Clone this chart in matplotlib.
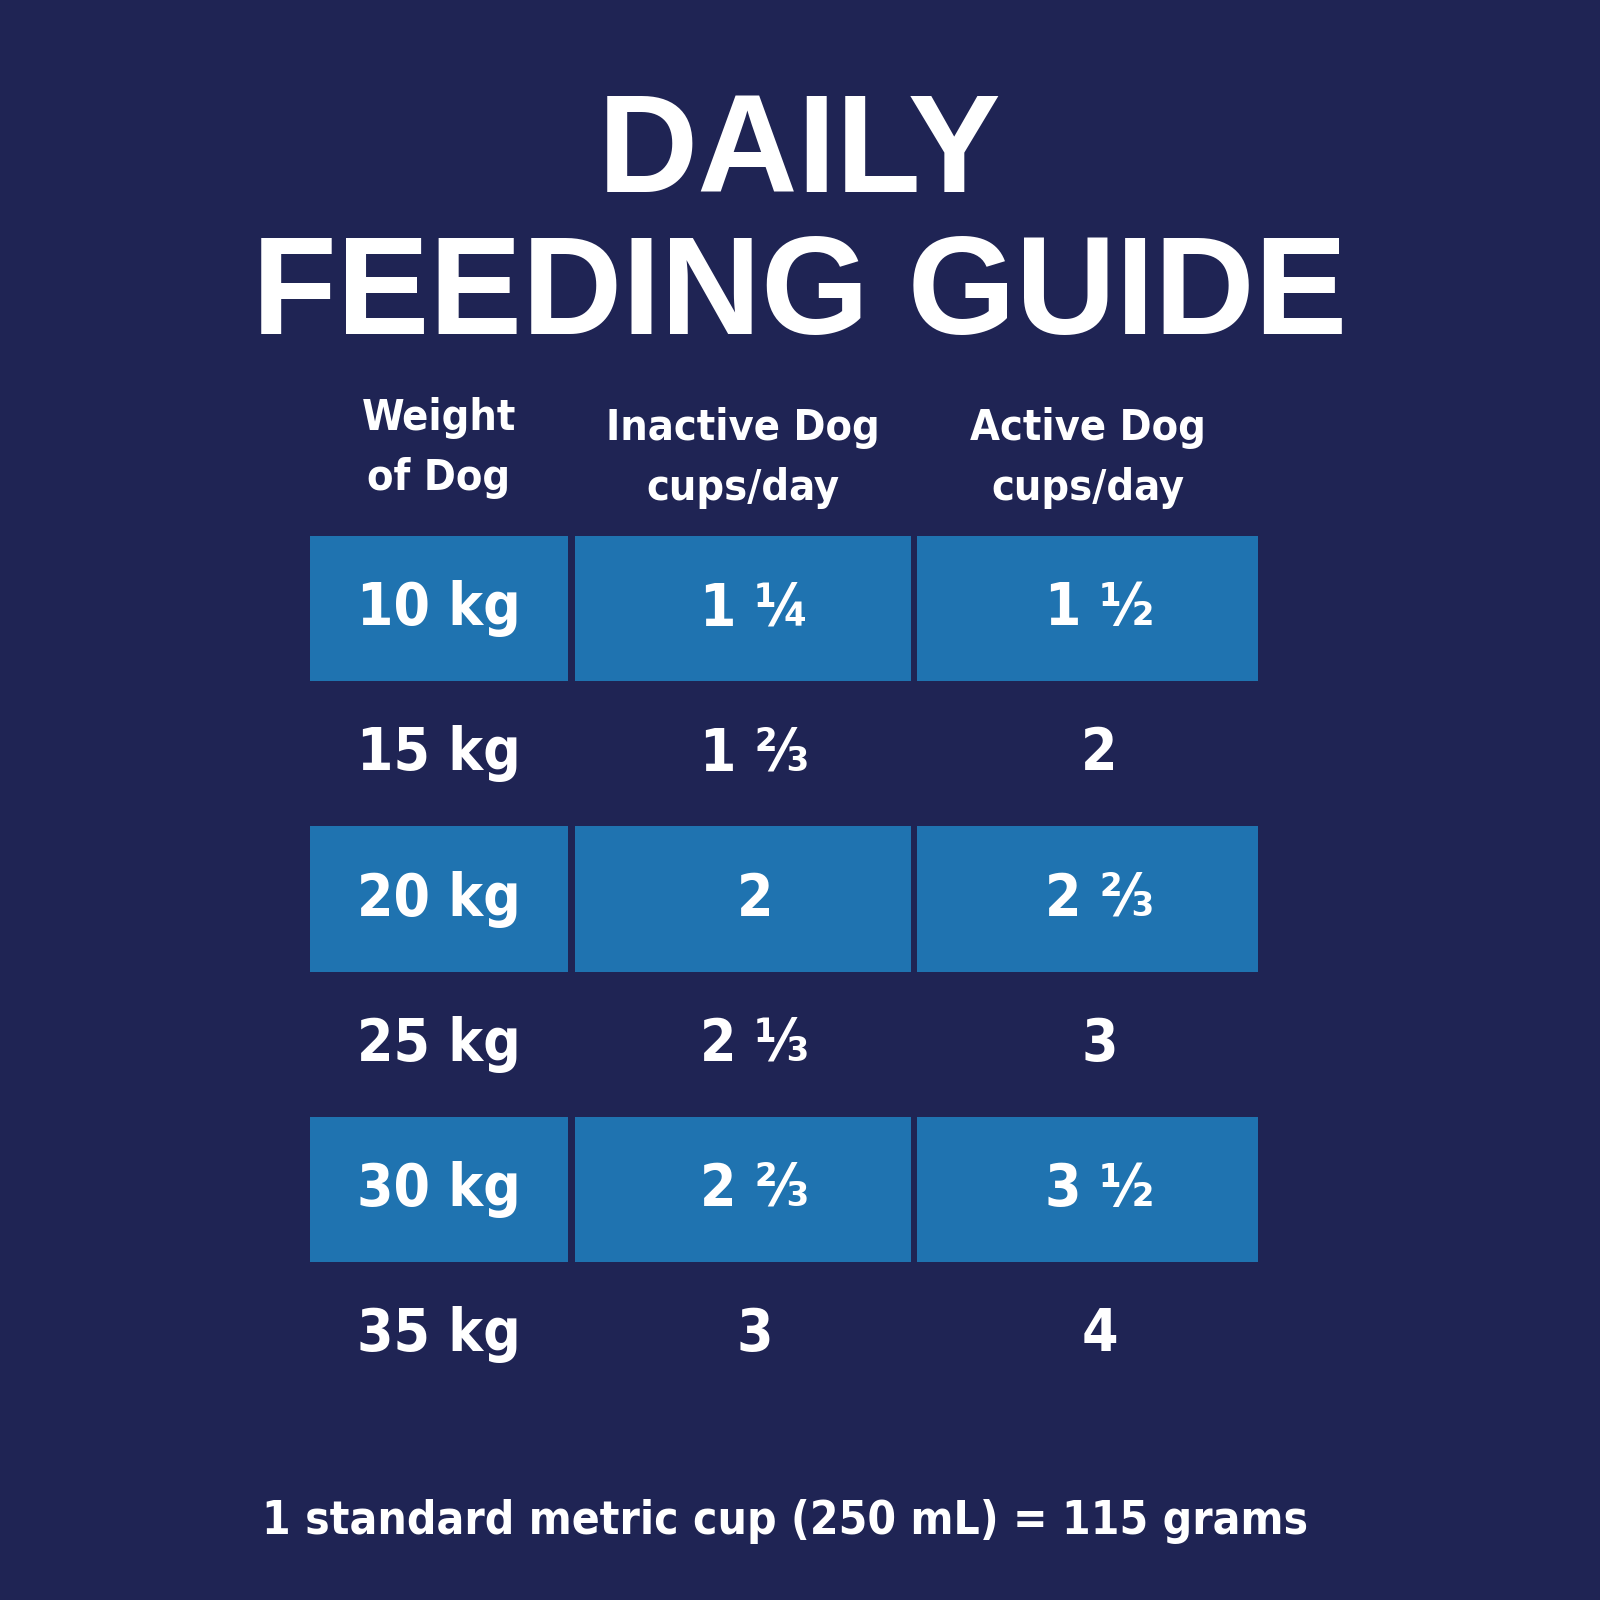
import matplotlib
matplotlib.use("Agg")
import matplotlib.pyplot as plt
from matplotlib.patches import Rectangle

title_lines = ["DAILY", "FEEDING GUIDE"]
headers = ["Weight\nof Dog", "Inactive Dog\ncups/day", "Active Dog\ncups/day"]
weights = ["10 kg", "15 kg", "20 kg", "25 kg", "30 kg", "35 kg"]
inactive = ["1 ¼", "1 ⅔", "2", "2 ⅓", "2 ⅔", "3"]
active = ["1 ½", "2", "2 ⅔", "3", "3 ½", "4"]
footer = "1 standard metric cup (250 mL) = 115 grams"

BG = "#1f2454"
CELL = "#1f73b0"
FONT = ["DejaVu Sans"]

fig = plt.figure(figsize=(16, 16), dpi=100, facecolor=BG)
ax = fig.add_axes([0, 0, 1, 1])
ax.set_xlim(0, 1600); ax.set_ylim(1600, 0); ax.axis("off")
ax.set_facecolor(BG)

ax.text(800, 156, title_lines[0], ha="center", va="center", color="white",
        fontsize=100, fontweight="heavy", family=["Liberation Sans", "DejaVu Sans"])
ax.text(800, 298, title_lines[1], ha="center", va="center", color="white",
        fontsize=100, fontweight="heavy", family=["Liberation Sans", "DejaVu Sans"])

col_edges = [(310, 568), (575, 911), (917, 1258)]
row_top, row_h = 536, 145.2
header_y = [448, 458, 458]
for (x0, x1), h, hy in zip(col_edges, headers, header_y):
    ax.text((x0 + x1) / 2, hy, h, ha="center", va="center", color="white",
            fontsize=31, fontweight="bold", family=FONT, fontstretch="condensed",
            linespacing=1.55)

cols = [weights, inactive, active]
for r in range(len(weights)):
    y0 = row_top + r * row_h
    for c, (x0, x1) in enumerate(col_edges):
        if r % 2 == 0:
            ax.add_patch(Rectangle((x0, y0), x1 - x0, row_h, color=CELL, lw=0))
        ax.text((x0 + x1) / 2 + (0 if c == 0 else 12), y0 + row_h / 2, cols[c][r],
                ha="center", va="center", color="white",
                fontsize=42, fontweight="bold", family=FONT, fontstretch="condensed")

ax.text(785, 1522, footer, ha="center", va="center", color="white",
        fontsize=33, fontweight="bold", family=FONT, fontstretch="condensed")

fig.savefig("out.png", dpi=100, facecolor=BG)
